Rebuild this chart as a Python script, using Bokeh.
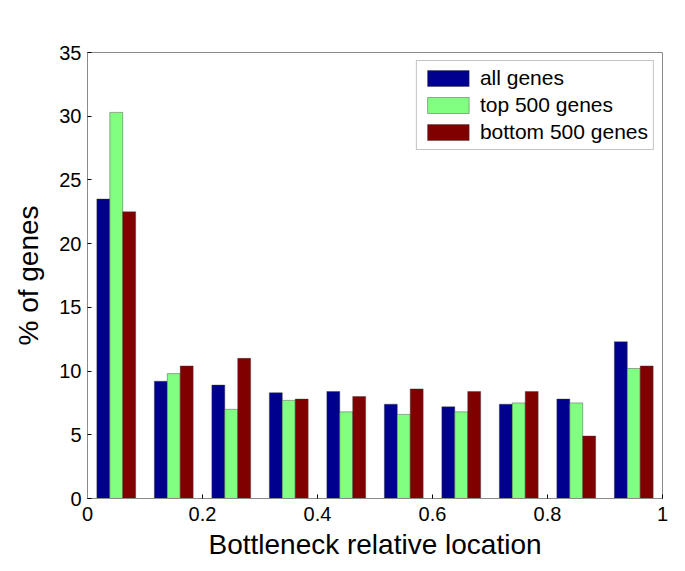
from bokeh.plotting import figure
from bokeh.models import ColumnDataSource, Range1d, FixedTicker, Legend, LegendItem
from bokeh.transform import dodge
from bokeh.embed import file_html
from bokeh.resources import INLINE

bin_centers = [0.05, 0.15, 0.25, 0.35, 0.45, 0.55, 0.65, 0.75, 0.85, 0.95]
all_genes = [23.5, 9.2, 8.9, 8.3, 8.4, 7.4, 7.2, 7.4, 7.8, 12.3]
top_500 = [30.3, 9.8, 7.0, 7.7, 6.8, 6.6, 6.8, 7.5, 7.5, 10.2]
bottom_500 = [22.5, 10.4, 11.0, 7.8, 8.0, 8.6, 8.4, 8.4, 4.9, 10.4]
series_names = ["all genes", "top 500 genes", "bottom 500 genes"]
series_colors = ["#00008F", "#80FF80", "#800000"]
x_ticks = [0, 0.2, 0.4, 0.6, 0.8, 1]
y_ticks = [0, 5, 10, 15, 20, 25, 30, 35]

src = ColumnDataSource(dict(x=bin_centers, a=all_genes, t=top_500, b=bottom_500))

FONT = "Liberation Sans"
p = figure(width=677, height=563, output_backend="svg", toolbar_location=None,
           x_range=Range1d(0, 1), y_range=Range1d(0, 35),
           min_border_left=87, min_border_right=15, min_border_top=52, min_border_bottom=65)
p.background_fill_color = "white"
p.border_fill_color = "white"
p.grid.visible = False
p.outline_line_color = "#8a8a8a"
p.outline_line_width = 1

bw = 0.0225
renderers = []
for col, off, color in zip(["a", "t", "b"], [-bw, 0, bw], series_colors):
    r = p.vbar(x=dodge("x", off, range=p.x_range), top=col, width=bw, bottom=0, source=src,
               fill_color=color, line_color="#3a3a3a", line_width=0.6, line_alpha=0.7)
    renderers.append(r)

for ax in (p.xaxis[0], p.yaxis[0]):
    ax.axis_line_color = "#8a8a8a"
    ax.major_tick_in = 4
    ax.major_tick_out = 0
    ax.minor_tick_in = 0
    ax.minor_tick_out = 0
    ax.major_tick_line_color = "black"
    ax.major_label_text_font = FONT
    ax.major_label_text_font_size = "20px"
    ax.major_label_text_color = "black"
    ax.axis_label_text_font = FONT
    ax.axis_label_text_font_size = "28px"
    ax.axis_label_text_font_style = "normal"
    ax.axis_label_text_color = "black"

p.xaxis.ticker = FixedTicker(ticks=x_ticks)
p.yaxis.ticker = FixedTicker(ticks=y_ticks)
p.xaxis.major_label_overrides = {0: "0", 1: "1"}
p.xaxis.major_label_standoff = 8
p.yaxis.major_label_standoff = 6
p.xaxis.axis_label = "Bottleneck relative location"
p.yaxis.axis_label = "% of genes"
p.xaxis.axis_label_standoff = 5
p.yaxis.axis_label_standoff = 12

legend = Legend(items=[LegendItem(label=n, renderers=[r]) for n, r in zip(series_names, renderers)],
                location="top_right")
legend.label_text_font = FONT
legend.label_text_font_size = "21px"
legend.label_text_color = "black"
legend.glyph_width = 52
legend.glyph_height = 20
legend.label_height = 20
legend.label_standoff = 6
legend.spacing = 3
legend.padding = 5
legend.margin = 8
legend.border_line_color = "#8a8a8a"
legend.border_line_width = 1
legend.background_fill_alpha = 1
p.add_layout(legend)

open("out.html", "w").write(file_html(p, INLINE))
